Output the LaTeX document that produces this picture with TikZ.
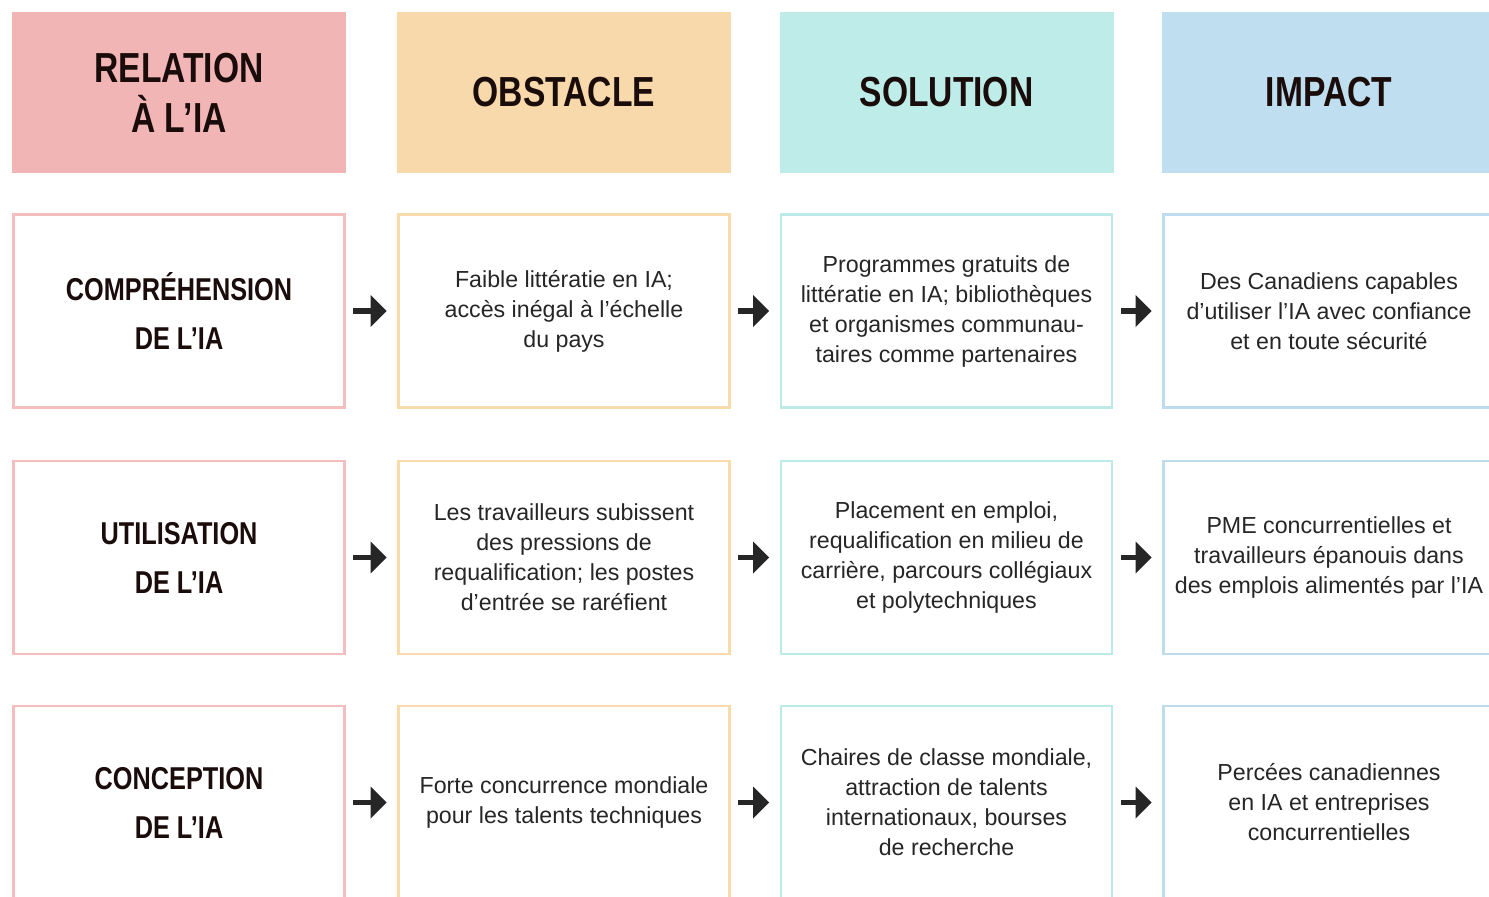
\documentclass[tikz,border=0pt]{standalone}
\usepackage{fontspec}
\setmainfont{Liberation Sans}
\newfontfamily\condfont[FakeStretch=0.8]{Liberation Sans Bold}
\usepackage{xcolor}
\usetikzlibrary{arrows.meta}

\definecolor{pinkfill}{HTML}{F2B5B6}
\definecolor{pinkline}{HTML}{F4BDBE}
\definecolor{orangefill}{HTML}{F7D9AC}
\definecolor{orangeline}{HTML}{F8DAAB}
\definecolor{tealfill}{HTML}{BEEDE9}
\definecolor{tealline}{HTML}{BCEBE7}
\definecolor{bluefill}{HTML}{BFDEEF}
\definecolor{blueline}{HTML}{BDDCEE}
\definecolor{headtext}{HTML}{1A0C0A}
\definecolor{bodytext}{HTML}{262626}

\begin{document}
\begin{tikzpicture}[x=0.5pt, y=-0.5pt,
    head/.style={minimum width=167pt, minimum height=80.5pt, inner sep=0pt,
      align=center, text=headtext, font=\condfont\fontsize{21}{25}\selectfont},
    cell/.style={draw, line width=1.3pt, fill=white, minimum width=165.5pt,
      minimum height=96.5pt, inner sep=0pt, align=center, text=bodytext,
      font=\fontsize{11.6}{15}\selectfont},
    rowlabel/.style={cell, draw=pinkline, text=headtext,
      font=\condfont\fontsize{15.8}{24.5}\selectfont},
    link/.style={-{Triangle[length=8pt,width=15.5pt]}, line width=2.6pt,
      draw=bodytext, shorten <=3.75pt, shorten >=5.25pt}]
  \useasboundingbox (0,0) rectangle (1489,896);
  \clip (0,0) rectangle (1489,896);

  % Header row
  \node[head, fill=pinkfill] (rel) at (179, 92.5) {RELATION\\À L’IA};
  \node[head, fill=orangefill] (obs) at (564, 92.5) {OBSTACLE};
  \node[head, fill=tealfill] (sol) at (946.5, 92.5) {SOLUTION};
  \node[head, fill=bluefill] (imp) at (1329, 92.5) {IMPACT};

  % Row 1
  \node[rowlabel] (c1) at (179, 311) {COMPRÉHENSION\\DE L’IA};
  \node[cell, draw=orangeline] (c2) at (564, 311)
    {Faible littératie en IA;\\accès inégal à l’échelle\\du pays};
  \node[cell, draw=tealline] (c3) at (946.5, 311)
    {Programmes gratuits de\\littératie en IA; bibliothèques\\et organismes communau-\\taires comme partenaires};
  \node[cell, draw=blueline] (c4) at (1329, 311)
    {Des Canadiens capables\\d’utiliser l’IA avec confiance\\et en toute sécurité};

  % Row 2
  \node[rowlabel] (u1) at (179, 557.5) {UTILISATION\\DE L’IA};
  \node[cell, draw=orangeline] (u2) at (564, 557.5)
    {Les travailleurs subissent\\des pressions de\\requalification; les postes\\d’entrée se raréfient};
  \node[cell, draw=tealline] (u3) at (946.5, 557.5)
    {Placement en emploi,\\requalification en milieu de\\carrière, parcours collégiaux\\et polytechniques};
  \node[cell, draw=blueline] (u4) at (1329, 557.5)
    {PME concurrentielles et\\travailleurs épanouis dans\\des emplois alimentés par l’IA};

  % Row 3
  \node[rowlabel] (d1) at (179, 802.5) {CONCEPTION\\DE L’IA};
  \node[cell, draw=orangeline] (d2) at (564, 802.5)
    {Forte concurrence mondiale\\pour les talents techniques};
  \node[cell, draw=tealline] (d3) at (946.5, 802.5)
    {Chaires de classe mondiale,\\attraction de talents\\internationaux, bourses\\de recherche};
  \node[cell, draw=blueline] (d4) at (1329, 802.5)
    {Percées canadiennes\\en IA et entreprises\\concurrentielles};

  % Arrows
  \foreach \r in {c,u,d} {
    \draw[link] (\r1) -- (\r2);
    \draw[link] (\r2) -- (\r3);
    \draw[link] (\r3) -- (\r4);
  }
\end{tikzpicture}
\end{document}
